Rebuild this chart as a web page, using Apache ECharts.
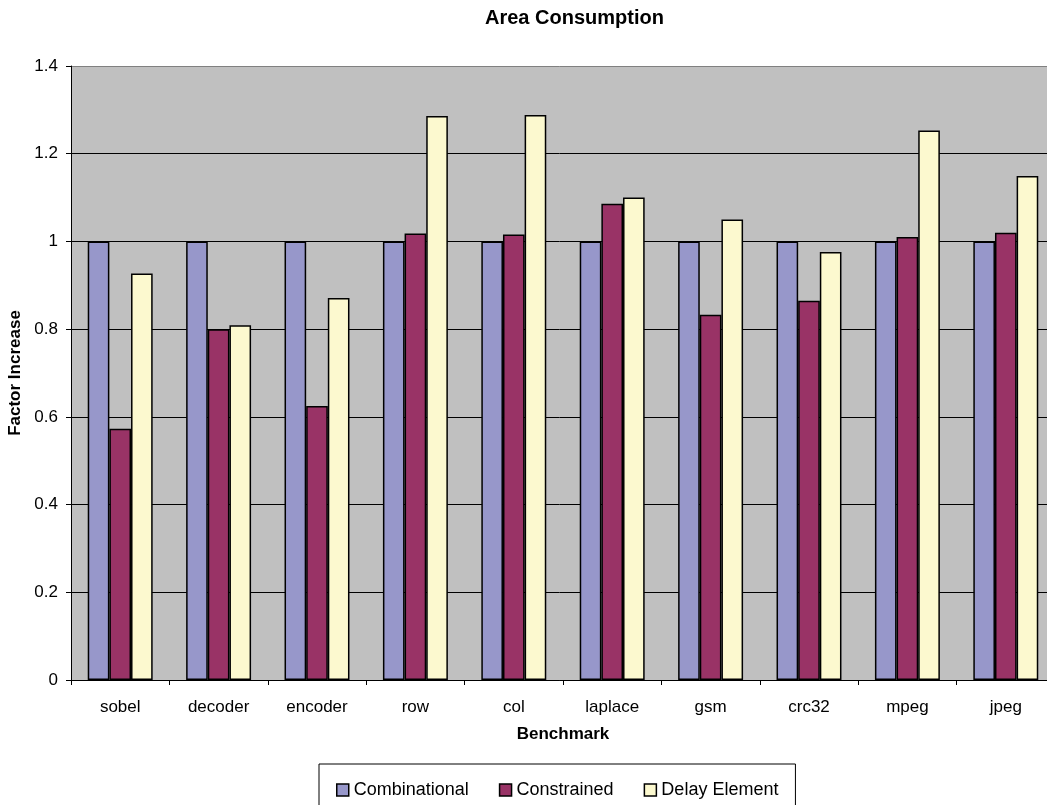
<!DOCTYPE html>
<html>
<head>
<meta charset="utf-8">
<script src="https://cdn.jsdelivr.net/npm/echarts@6/dist/echarts.min.js"></script>
<style>
  html, body { margin: 0; padding: 0; background: #ffffff; }
  #chart { width: 1047px; height: 805px; }
</style>
</head>
<body>
<div id="chart"></div>
<script>
// Benchmarks along the x axis
const categories = ['sobel', 'decoder', 'encoder', 'row', 'col', 'laplace', 'gsm', 'crc32', 'mpeg', 'jpeg'];
// Area relative to the combinational baseline
const combinational = [1, 1, 1, 1, 1, 1, 1, 1, 1, 1];
const constrained = [0.573, 0.800, 0.625, 1.018, 1.016, 1.086, 0.833, 0.865, 1.010, 1.020];
const delayElement = [0.927, 0.809, 0.871, 1.286, 1.288, 1.100, 1.050, 0.976, 1.253, 1.149];
// Value axis ticks
const yTicks = [0, 0.2, 0.4, 0.6, 0.8, 1, 1.2, 1.4];

const FONT = "'Liberation Sans', Arial, sans-serif";
const chart = echarts.init(document.getElementById('chart'));

function barSeries(name, data, color) {
  return {
    name: name,
    type: 'bar',
    data: data,
    barGap: '0%',
    barCategoryGap: '34%',
    itemStyle: { color: color, borderColor: '#000000', borderWidth: 1.5 },
    emphasis: { disabled: true }
  };
}

chart.setOption({
  animation: false,
  backgroundColor: '#ffffff',
  textStyle: { fontFamily: FONT, color: '#000000' },
  title: {
    text: 'Area Consumption',
    left: 485,
    top: 8,
    padding: 0,
    textStyle: { fontFamily: FONT, fontSize: 20, fontWeight: 'bold', color: '#000000' }
  },
  legend: {
    data: ['Combinational', 'Constrained', 'Delay Element'],
    left: 319,
    top: 764,
    orient: 'horizontal',
    padding: [17, 17, 20, 17],
    borderColor: '#000000',
    borderWidth: 1,
    itemWidth: 12,
    itemHeight: 12,
    itemGap: 30,
    icon: 'rect',
    itemStyle: { borderColor: '#000000', borderWidth: 1.5 },
    textStyle: { fontFamily: FONT, fontSize: 18, color: '#000000' }
  },
  grid: {
    left: 71,
    top: 66,
    width: 984,
    height: 614,
    outerBoundsMode: 'none',
    containLabel: false,
    show: true,
    backgroundColor: '#C0C0C0',
    borderWidth: 0
  },
  xAxis: {
    type: 'category',
    data: categories,
    name: 'Benchmark',
    nameLocation: 'middle',
    nameGap: 46,
    nameTextStyle: { fontFamily: FONT, fontSize: 17, fontWeight: 'bold', color: '#000000' },
    axisLine: { show: true, lineStyle: { color: '#000000', width: 1 } },
    axisTick: { show: true, inside: false, length: 5, lineStyle: { color: '#000000' } },
    axisLabel: { fontFamily: FONT, fontSize: 17, color: '#000000', margin: 19, interval: 0 },
    splitLine: { show: false }
  },
  yAxis: {
    type: 'value',
    min: yTicks[0],
    max: yTicks[yTicks.length - 1],
    interval: yTicks[1] - yTicks[0],
    name: 'Factor Increase',
    nameLocation: 'middle',
    nameGap: 44,
    nameTextStyle: { fontFamily: FONT, fontSize: 17, fontWeight: 'bold', color: '#000000' },
    axisLine: { show: true, lineStyle: { color: '#000000', width: 1 } },
    axisTick: { show: true, inside: false, length: 5, lineStyle: { color: '#000000' } },
    axisLabel: { fontFamily: FONT, fontSize: 17, color: '#000000', margin: 13 },
    splitLine: {
      show: true,
      lineStyle: {
        color: ['#000000', '#000000', '#000000', '#000000', '#000000', '#000000', '#000000', '#808080'],
        width: 1
      }
    }
  },
  series: [
    barSeries('Combinational', combinational, '#9797CA'),
    barSeries('Constrained', constrained, '#993366'),
    barSeries('Delay Element', delayElement, '#FCF9CF')
  ]
});
</script>
</body>
</html>
